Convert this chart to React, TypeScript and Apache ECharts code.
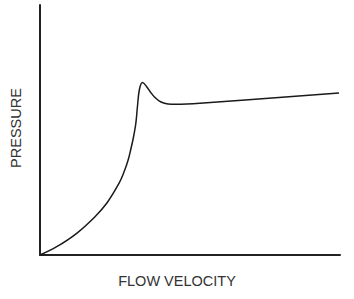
import React, { useEffect, useRef } from "react";
import * as echarts from "echarts";

const xLabel = "FLOW VELOCITY";
const yLabel = "PRESSURE";

const velocity = [0, 5.57, 12.23, 18.33, 22.23, 26.33, 28, 29.33, 30.33, 31.17, 31.87, 32.17, 32.5, 33.17, 34.17, 35.5, 36.67, 38.33, 40.33, 42.67, 45.33, 53.33, 99.67];
const pressure = [0, 3.32, 8.68, 15.32, 20.68, 28.68, 33.2, 37.8, 42.6, 47.2, 52, 55.2, 59.6, 66.4, 69, 67.4, 65.4, 63, 61.2, 60.4, 60.28, 60.68, 64.8];

export default function App() {
  const ref = useRef<HTMLDivElement>(null);
  useEffect(() => {
    if (!ref.current) return;
    const chart = echarts.init(ref.current, undefined, { renderer: "svg" });
    const data = velocity.map((v, i) => [v, pressure[i]]);
    chart.setOption({
      animation: false,
      grid: { left: 40, right: 14, top: 5, bottom: 44 },
      xAxis: {
        type: "value",
        min: 0,
        max: 100,
        axisLine: { show: true, onZero: false, lineStyle: { color: "#222", width: 2 } },
        axisTick: { show: false },
        axisLabel: { show: false },
        splitLine: { show: false },
      },
      yAxis: {
        type: "value",
        min: 0,
        max: 100,
        axisLine: { show: true, lineStyle: { color: "#222", width: 2 } },
        axisTick: { show: false },
        axisLabel: { show: false },
        splitLine: { show: false },
      },
      graphic: [
        {
          type: "text",
          x: 177,
          y: 280.5,
          style: {
            text: xLabel,
            fontFamily: "Liberation Sans, Arial, sans-serif",
            fontSize: 14.5,
            fill: "#333",
            align: "center",
            verticalAlign: "middle",
          },
        },
        {
          type: "text",
          x: 16,
          y: 128,
          rotation: Math.PI / 2,
          style: {
            text: yLabel,
            fontFamily: "Liberation Sans, Arial, sans-serif",
            fontSize: 14.5,
            fill: "#333",
            align: "center",
            verticalAlign: "middle",
          },
        },
      ],
      series: [
        {
          type: "line",
          data,
          smooth: 0.4,
          showSymbol: false,
          lineStyle: { color: "#1a1a1a", width: 1.5 },
        },
      ],
    });
    return () => chart.dispose();
  }, []);
  return <div ref={ref} style={{ width: 354, height: 299, position: "absolute", left: 0, top: 0 }} />;
}
